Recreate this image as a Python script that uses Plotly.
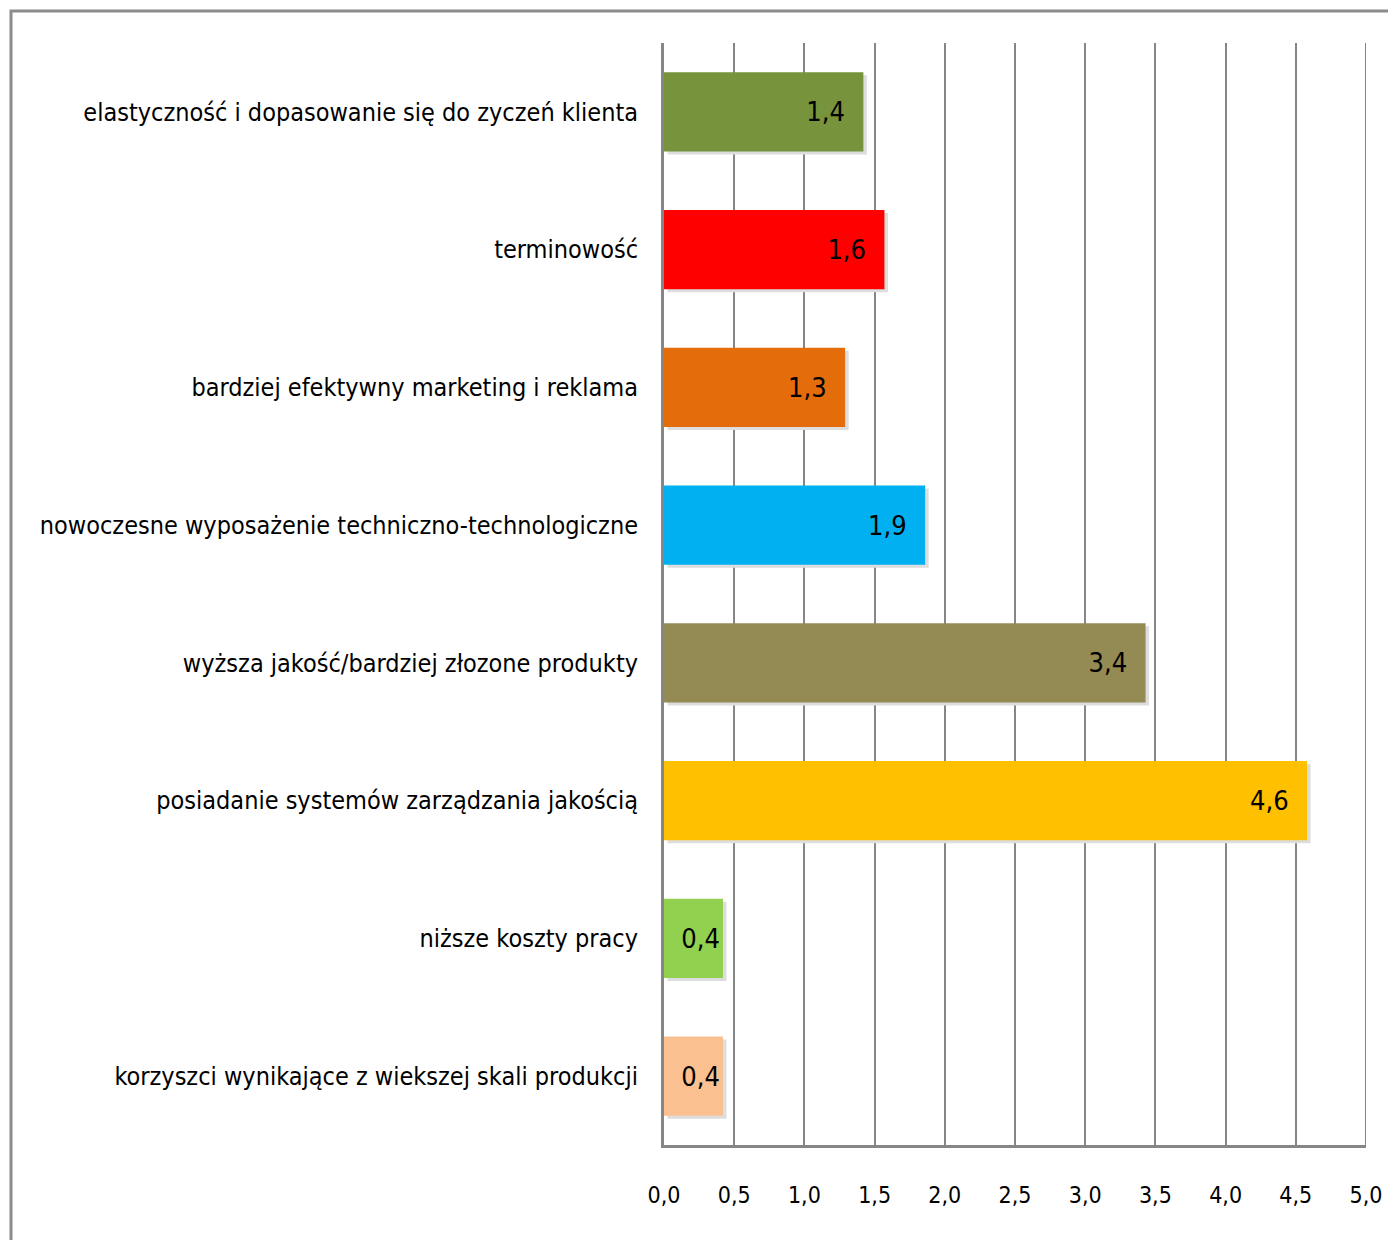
import plotly.graph_objects as go

categories = [
    "elastyczność i dopasowanie się do zyczeń klienta",
    "terminowość",
    "bardziej efektywny marketing i reklama",
    "nowoczesne wyposażenie techniczno-technologiczne",
    "wyższa jakość/bardziej złozone produkty",
    "posiadanie systemów zarządzania jakością",
    "niższe koszty pracy",
    "korzyszci wynikające z wiekszej skali produkcji",
]
values = [1.42, 1.57, 1.29, 1.86, 3.43, 4.58, 0.42, 0.42]
labels = ["1,4", "1,6", "1,3", "1,9", "3,4", "4,6", "0,4", "0,4"]
colors = ["#77933C", "#FF0000", "#E46C0A", "#00B0F0", "#948A54", "#FFC000", "#92D050", "#FAC090"]
tick_vals = [0, 0.5, 1.0, 1.5, 2.0, 2.5, 3.0, 3.5, 4.0, 4.5, 5.0]
tick_text = ["0,0", "0,5", "1,0", "1,5", "2,0", "2,5", "3,0", "3,5", "4,0", "4,5", "5,0"]

FONT = "DejaVu Sans Condensed, Liberation Sans Narrow, Liberation Sans, sans-serif"

templates = ["%{text}  " if v > 1 else "%{text}" for v in values]

fig = go.Figure()
# shadow
fig.add_trace(go.Bar(
    y=categories, x=values, base=0.025, orientation="h",
    marker=dict(color="#DDDDDD", line=dict(width=0)), width=0.575, offset=-0.2655,
    hoverinfo="skip", showlegend=False,
))
fig.add_trace(go.Bar(
    y=categories, x=values, orientation="h",
    marker=dict(color=colors, line=dict(width=0)), width=0.575, offset=-0.2875,
    text=labels, texttemplate=templates, textposition="inside", insidetextanchor="end",
    textangle=0,
    textfont=dict(family=FONT, size=27, color="black"),
    constraintext="none", showlegend=False,
))

OFF = 8  # page offset
W0, W1 = 664 - OFF, 1366 - OFF
T0, T1 = 43 - OFF, 1145 - OFF
def px(x):
    return (x - OFF - W0) / (W1 - W0)
def py(y):
    return 1 - (y - OFF - T0) / (T1 - T0)

fig.update_layout(
    width=1396, height=1240,
    margin=dict(l=W0, r=1396 - W1, t=T0, b=1240 - T1, pad=0, autoexpand=False),
    paper_bgcolor="white", plot_bgcolor="white",
    barmode="overlay",
    font=dict(family=FONT, size=25, color="black"),
    shapes=[dict(type="rect", xref="paper", yref="paper",
                 x0=px(11), x1=px(1420), y0=py(11), y1=py(1300),
                 line=dict(color="#8C8C8C", width=3), fillcolor="rgba(0,0,0,0)", layer="below")],
)
fig.update_xaxes(
    range=[0, 5], tickvals=tick_vals, ticktext=tick_text,
    showgrid=True, gridcolor="#868686", gridwidth=2,
    showline=True, linecolor="#868686", linewidth=3,
    zeroline=False, ticks="", ticklabelstandoff=27, automargin=False,
    tickfont=dict(family=FONT, size=23),
)
fig.update_yaxes(
    autorange="reversed", showline=True, linecolor="#868686", linewidth=3,
    showgrid=False, ticks="", ticklabelstandoff=18, automargin=False,
    tickfont=dict(family=FONT, size=25),
)
fig.add_shape(type="line", xref="x", yref="paper", x0=5, x1=5, y0=0, y1=1,
              line=dict(color="#868686", width=2))
fig.write_html("out.html")
